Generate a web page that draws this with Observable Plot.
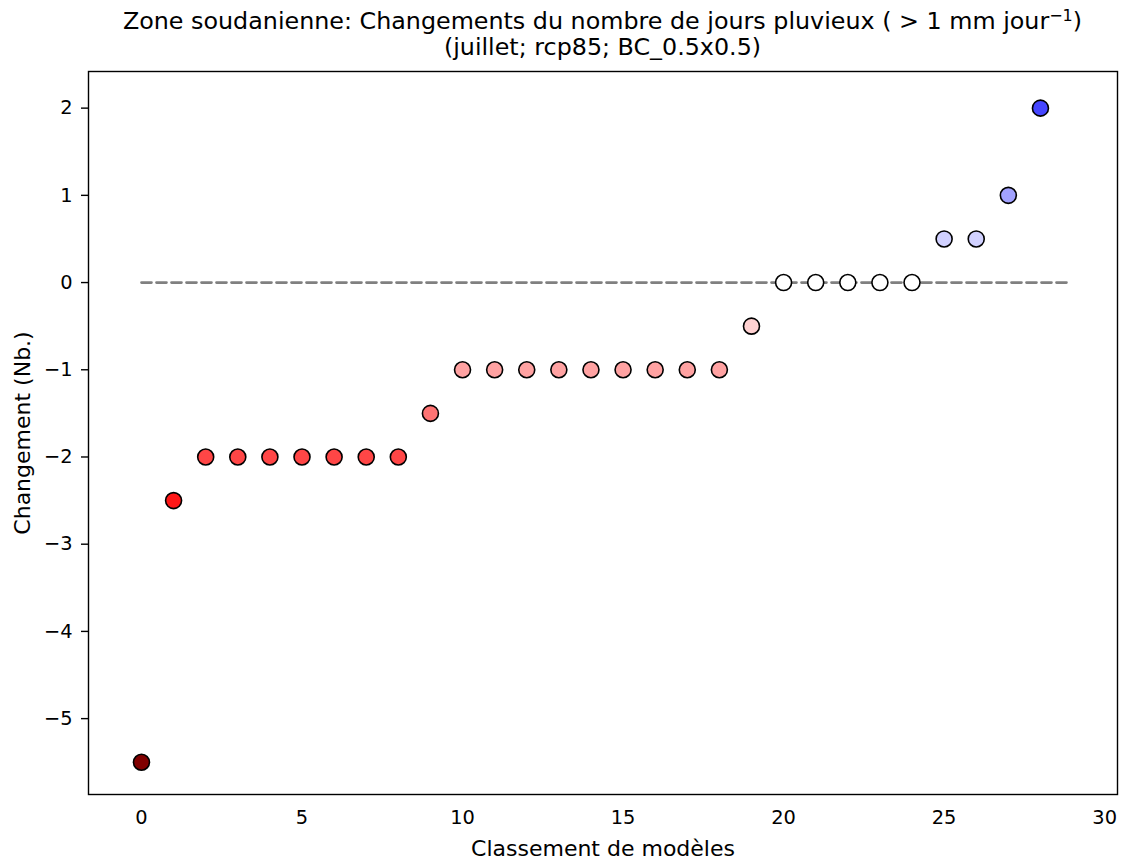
<!DOCTYPE html>
<html><head><meta charset="utf-8">
<script src="https://cdn.jsdelivr.net/npm/d3@7"></script>
<script src="https://cdn.jsdelivr.net/npm/@observablehq/plot@0.6"></script>
<style>
body{margin:0;background:#fff;font-family:"DejaVu Sans",sans-serif;color:#000;}
#title{width:1122px;height:66px;position:relative;}
#title div{position:absolute;left:88px;width:1029px;text-align:center;font-size:23.8px;line-height:28px;white-space:nowrap;}
#title sup{font-size:16px;line-height:0;vertical-align:0.5em;}
</style></head>
<body>
<div id="title"><div style="top:7px">Zone soudanienne: Changements du nombre de jours pluvieux ( &gt; 1 mm jour<sup>−1</sup>)</div><div style="top:33px">(juillet; rcp85; BC_0.5x0.5)</div></div>
<div id="chart"></div>
<script>
const ranks = [0,1,2,3,4,5,6,7,8,9,10,11,12,13,14,15,16,17,18,19,20,21,22,23,24,25,26,27,28];
const changes = [-5.5,-2.5,-2,-2,-2,-2,-2,-2,-2,-1.5,-1,-1,-1,-1,-1,-1,-1,-1,-1,-0.5,0,0,0,0,0,0.5,0.5,1,2];
const xTicks = [0,5,10,15,20,25,30];
const yTicks = [-5,-4,-3,-2,-1,0,1,2];
const refLineX = [0, 28.9];
const colorStops = [-5.5,-2.75,0,2.75,5.5];
const colorRange = ["#800000","#ff0000","#ffffff","#0000ff","#00004d"];
const xLabel = "Classement de modèles";
const yLabel = "Changement (Nb.)";

const data = ranks.map((r,i)=>({rank:r, change:changes[i]}));
const ref = refLineX.map(x=>({x, y:0}));

const plot = Plot.plot({
  width:1122, height:795,
  marginTop:5, marginBottom:67, marginLeft:88, marginRight:5,
  style:{fontFamily:"DejaVu Sans", fontSize:"19.4px", background:"white", color:"black", overflow:"visible"},
  x:{domain:[-1.65,30.4]},
  y:{domain:[-5.87,2.42]},
  color:{type:"linear", domain:colorStops, range:colorRange, interpolate:"rgb"},
  marks:[
    Plot.line(ref, {x:"x", y:"y", stroke:"#808080", strokeWidth:2.7, strokeDasharray:"10,5"}),
    Plot.dot(data, {x:"rank", y:"change", r:8, fill:"change", stroke:"black", strokeWidth:1.6}),
    Plot.frame({stroke:"black", strokeWidth:1.4}),
    Plot.axisX({ticks:xTicks, tickSize:0, tickPadding:16, label:null}),
    Plot.axisY({ticks:yTicks, tickSize:7, tickPadding:9, strokeWidth:1.4, label:null}),
    Plot.text([xLabel], {text:d=>d, frameAnchor:"bottom", dy:54, fontSize:22, lineAnchor:"middle"}),
    Plot.text([yLabel], {text:d=>d, frameAnchor:"left", textAnchor:"middle", dx:-66, rotate:-90, fontSize:22, lineAnchor:"middle"})
  ]
});
document.getElementById("chart").appendChild(plot);
</script>
</body></html>
